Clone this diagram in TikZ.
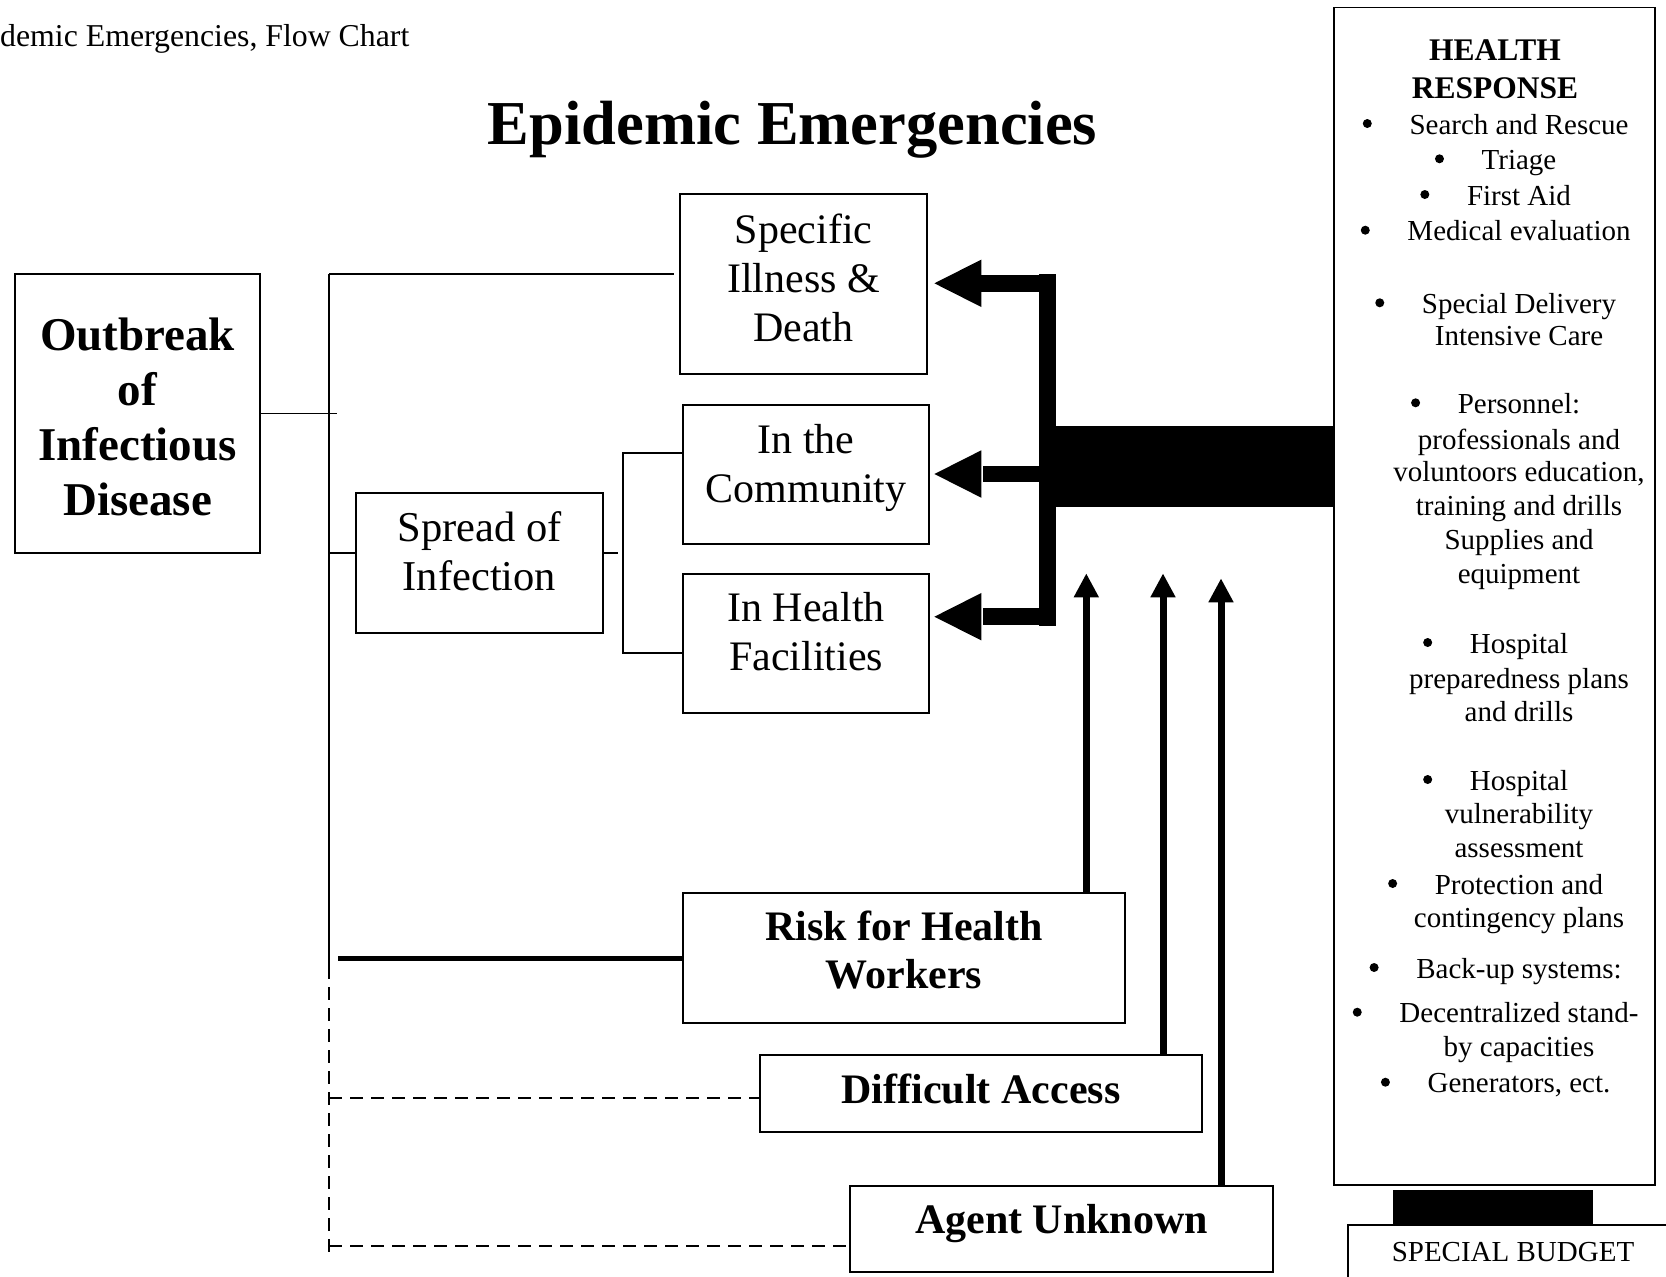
\documentclass[tikz,border=0pt]{standalone}
\usepackage{fontspec}
\setmainfont{Liberation Serif}
\usetikzlibrary{arrows.meta}
% one line of the health response list, centred on the panel's text axis
\newcommand\rlistline[3]{\node[listtext] (#1) at (1519,#2) {#3};}
% a round bullet set in front of a list line
\newcommand\rlistbullet[1]{\node[bul] (#1b) at ([xshift=-42pt,yshift=10.5pt]#1.base west) {};}
\begin{document}
\begin{tikzpicture}[x=1pt,y=-1pt,
  nodebox/.style={draw, line width=1.8pt, inner sep=0pt, align=center},
  thinlink/.style={line width=1.8pt},
  dashlink/.style={line width=1.8pt, dash pattern=on 13pt off 8pt},
  heavylink/.style={line width=5pt},
  uparrow/.style={line width=7pt, -{Triangle[length=24pt,width=23.5pt]}},
  fatshaft/.style={line width=16.5pt},
  listtext/.style={inner sep=0pt, anchor=base, font=\fontsize{29}{34}\selectfont},
  bul/.style={circle, fill, inner sep=0pt, minimum size=9pt},
  headtext/.style={inner sep=0pt, anchor=base, font=\fontsize{31.5}{37}\selectfont\bfseries},
]
\useasboundingbox (0,0) rectangle (1666,1277);
\clip (0,0) rectangle (1666,1277);

% headings
\node[anchor=base west, inner sep=0pt, font=\fontsize{31.8}{38}\selectfont] (header) at (0,46.5) {demic Emergencies, Flow Chart};
\node[anchor=base, inner sep=0pt, font=\fontsize{62.5}{72}\selectfont\bfseries] (title) at (792.6,144) {Epidemic Emergencies};

% boxes of the chart
\node[nodebox, minimum width=245pt, minimum height=279pt, font=\fontsize{47}{55}\selectfont\bfseries]
  (outbreak) at (137.5,413.5) {\rule{0pt}{50pt}Outbreak\\of\\Infectious\\Disease\rule[-12pt]{0pt}{12pt}};
\node[nodebox, minimum width=247pt, minimum height=180pt, font=\fontsize{42}{49}\selectfont]
  (spec) at (803.5,284) {\rule{0pt}{31.2pt}Specific\\Illness \&\\Death\rule[-14pt]{0pt}{14pt}};
\node[nodebox, minimum width=246pt, minimum height=139pt, font=\fontsize{42}{49}\selectfont]
  (comm) at (806,474.5) {\rule{0pt}{31pt}In the\\Community\rule[-25pt]{0pt}{25pt}};
\node[nodebox, minimum width=246pt, minimum height=139pt, font=\fontsize{42}{49}\selectfont]
  (fac) at (806,643.5) {\rule{0pt}{31pt}In Health\\Facilities\rule[-27pt]{0pt}{27pt}};
\node[nodebox, minimum width=247pt, minimum height=140pt, font=\fontsize{42.5}{49}\selectfont]
  (spread) at (479.5,563.3) {\rule{0pt}{30.8pt}Spread of\\Infection\rule[-25pt]{0pt}{25pt}};
\node[nodebox, minimum width=442pt, minimum height=130pt, font=\fontsize{42}{47.6}\selectfont\bfseries]
  (risk) at (904,958) {\rule{0pt}{31pt}Risk for Health\\Workers\rule[-18pt]{0pt}{18pt}};
\node[nodebox, minimum width=442pt, minimum height=77pt, font=\fontsize{42}{48}\selectfont\bfseries,
  text height=31.6pt, text depth=12pt] (diff) at (981,1093.5) {Difficult Access};
\node[nodebox, minimum width=423pt, minimum height=86pt, font=\fontsize{42}{48}\selectfont\bfseries,
  text height=30.6pt, text depth=22pt] (agent) at (1061.5,1229) {Agent Unknown};

% hub bar and the health response panel
\node[fill, inner sep=0pt, minimum width=16.4pt, minimum height=352pt] (hub) at (1047.5,450) {};
\node[nodebox, line width=1.6pt, minimum width=321pt, minimum height=1177.7pt] (hr) at (1494.5,596.2) {};
\node[nodebox, line width=1.6pt, minimum width=330pt, minimum height=80pt, font=\fontsize{29}{34}\selectfont,
  text height=21.4pt, text depth=28pt] (budget) at (1513,1265) {SPECIAL BUDGET};

% thin tree on the left
\coordinate (trunkTop) at (329,274);
\coordinate (trunkMid) at (329,966);
\coordinate (trunkEnd) at (329,1252);
\coordinate (obEnd) at (337,0);
\coordinate (jSpread) at (329,553.3);
\coordinate (brStub) at (618,0);
\coordinate (brTop) at (622.8,453.3);
\coordinate (brBot) at (622.8,653.3);
\coordinate (rkStart) at (338,958);
\coordinate (dA) at (329,1098);
\coordinate (dB) at (329,1246);

\draw[thinlink] (trunkTop) -- (trunkMid);
\draw[dashlink] (trunkMid) -- (trunkEnd);
\draw[thinlink, shorten >=5pt] (trunkTop) -- (trunkTop -| spec.west);
\draw[thinlink] (outbreak.east) -- (outbreak.east -| obEnd);
\draw[thinlink] (jSpread) -- (jSpread -| spread.west);
\draw[thinlink] (spread.east |- jSpread) -- (jSpread -| brStub);
\draw[thinlink] (brTop -| comm.west) -- (brTop) -- (brBot) -- (brBot -| fac.west);
\draw[heavylink] (rkStart) -- (rkStart -| risk.west);
\draw[dashlink] (dA) -- (dA -| diff.west);
\draw[dashlink] (dB) -- (dB -| agent.west);

% feed from the panel into the hub
\coordinate (feedTop) at (0,426);
\coordinate (feedBot) at (0,506.7);
\fill (hub.center |- feedTop) rectangle (hr.west |- feedBot);
\fill (1393,1190) rectangle (1593,1225);

% fat arrows from the hub to the three outcome boxes
\coordinate (yA) at (0,283.3);
\coordinate (yB) at (0,474);
\coordinate (yC) at (0,616.7);
\draw[fatshaft, shorten >=53pt] (hub.center |- yA) -- (spec.east |- yA);
\fill[shift={(spec.east |- yA)}] (6.5,0) -- (53.5,-23.75) -- (53.5,23.75) -- cycle;
\draw[fatshaft, shorten >=53pt] (hub.center |- yB) -- (comm.east |- yB);
\fill[shift={(comm.east |- yB)}] (4.5,0) -- (51.5,-23.75) -- (51.5,23.75) -- cycle;
\draw[fatshaft, shorten >=53pt] (hub.center |- yC) -- (fac.east |- yC);
\fill[shift={(fac.east |- yC)}] (4.5,0) -- (51.5,-23.75) -- (51.5,23.75) -- cycle;

% thin arrows rising from the lower boxes
\coordinate (up1) at (1086.3,573.3);
\coordinate (up2) at (1163,573.3);
\coordinate (up3) at (1221,578.3);
\draw[uparrow] (risk.north -| up1) -- (up1);
\draw[uparrow] (diff.north -| up2) -- (up2);
\draw[uparrow] (agent.north -| up3) -- (up3);

% health response panel text
\node[headtext] (hrh1) at (1495,60.7) {HEALTH};
\node[headtext] (hrh2) at (1495,98.3) {RESPONSE};
\rlistline{l1}{134}{Search and Rescue}\rlistbullet{l1}
\rlistline{l2}{169.3}{Triage}\rlistbullet{l2}
\rlistline{l3}{205}{First Aid}\rlistbullet{l3}
\rlistline{l4}{240.7}{Medical evaluation}\rlistbullet{l4}
\rlistline{l5}{313.3}{Special Delivery}\rlistbullet{l5}
\rlistline{l6}{345}{Intensive Care}
\rlistline{l7}{413.3}{Personnel:}\rlistbullet{l7}
\rlistline{l8}{449}{professionals and}
\rlistline{l9}{481.7}{voluntoors education,}
\rlistline{l10}{515}{training and drills}
\rlistline{l11}{549}{Supplies and}
\rlistline{l12}{583}{equipment}
\rlistline{l13}{653}{Hospital}\rlistbullet{l13}
\rlistline{l14}{688}{preparedness plans}
\rlistline{l15}{721.7}{and drills}
\rlistline{l16}{790}{Hospital}\rlistbullet{l16}
\rlistline{l17}{823}{vulnerability}
\rlistline{l18}{857}{assessment}
\rlistline{l19}{894}{Protection and}\rlistbullet{l19}
\rlistline{l20}{927}{contingency plans}
\rlistline{l21}{978}{Back-up systems:}\rlistbullet{l21}
\rlistline{l22}{1022.7}{Decentralized stand-}\rlistbullet{l22}
\rlistline{l23}{1056.7}{by capacities}
\rlistline{l24}{1092.7}{Generators, ect.}\rlistbullet{l24}
\end{tikzpicture}
\end{document}
